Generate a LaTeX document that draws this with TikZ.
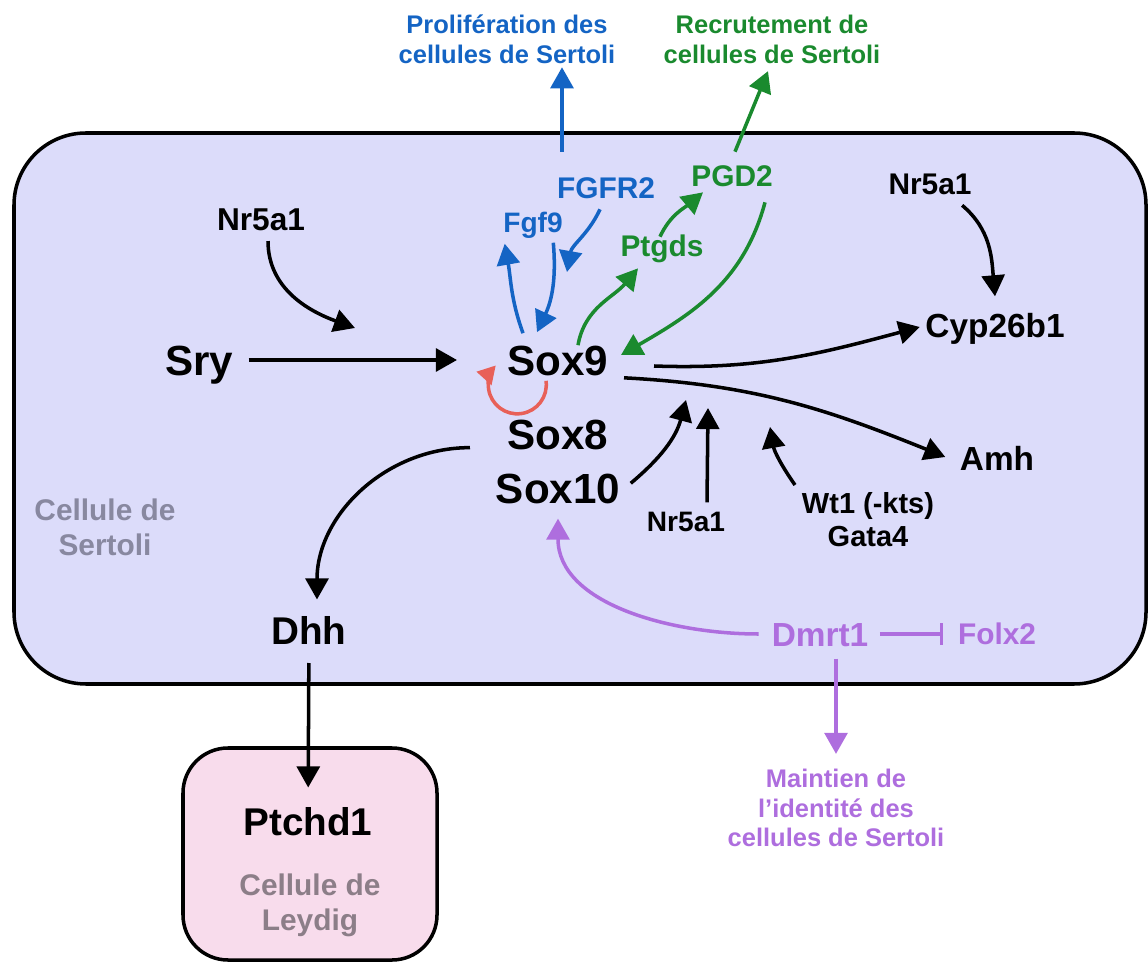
\documentclass[tikz,border=0pt]{standalone}
\usepackage{fontspec}
\setmainfont{Liberation Sans}
\usetikzlibrary{arrows.meta,positioning}

\definecolor{sertolibg}{RGB}{220,220,250}
\definecolor{leydigbg}{RGB}{248,220,236}
\definecolor{fgfblue}{RGB}{20,100,196}
\definecolor{pgdgreen}{RGB}{26,138,46}
\definecolor{dmrtpurple}{RGB}{174,110,222}
\definecolor{loopred}{RGB}{232,96,88}
\definecolor{cellgray}{RGB}{136,136,160}
\definecolor{leydiggray}{RGB}{140,126,136}

\tikzset{
  gene/.style 2 args={font=\bfseries\fontsize{#1}{#1}\selectfont, text height=#2, text depth=0pt, inner sep=3pt},
  note/.style 2 args={align=center, inner sep=2pt, font=\bfseries\fontsize{#1}{#2}\selectfont},
  act/.style={-{Triangle[length=12pt,width=13pt]}, line width=2pt},
  fgfarrow/.style={act, color=fgfblue},
  pgdarrow/.style={act, color=pgdgreen},
  dmrtarrow/.style={act, color=dmrtpurple},
  looparrow/.style={-{Triangle[length=10pt,width=11pt]}, line width=2pt, color=loopred},
}

\begin{document}
\begin{tikzpicture}[x=0.02cm, y=0.02cm]
\useasboundingbox (0,0) rectangle (1148,964);

% cells
\draw[line width=2pt, fill=sertolibg, rounded corners=1.44cm] (14,280) rectangle (1146,831);
\draw[line width=2pt, fill=leydigbg, rounded corners=0.9cm] (183,4) rectangle (437,216);

% genes
\node[gene={24}{17.3pt}] (sry) at (199,604) {Sry};
\node[gene={24}{17.3pt}] (sox9) at (558,604) {Sox9};
\node[gene={24}{17.3pt}] (sox8) [below=0.66cm of sox9] {Sox8};
\node[gene={24}{17.3pt}] (sox10) [below=0.24cm of sox8] {Sox10};
\node[gene={18}{13pt}] (nrTL) at (261,745) {Nr5a1};
\node[gene={17}{12.2pt}] (nrR) at (930,780) {Nr5a1};
\node[gene={19}{13.7pt}] (cyp) at (995,639) {Cyp26b1};
\node[gene={19}{13.7pt}] (amh) at (997,506) {Amh};
\node[gene={16}{11.5pt}] (nrB) at (686,443) {Nr5a1};
\node[note={16.5}{18.7}] (wt) at (868,444) {Wt1 (-kts)\\Gata4};
\node[gene={16}{11.5pt}, text=fgfblue] (fgf9) at (533,742) {Fgf9};
\node[gene={17}{12.2pt}, text=fgfblue] (fgfr) at (606,776) {FGFR2};
\node[gene={17}{12.2pt}, text=pgdgreen] (ptgds) at (662,718) {Ptgds};
\node[gene={17}{12.2pt}, text=pgdgreen] (pgd) at (732,788) {PGD2};
\node[gene={22}{15.8pt}] (dhh) at (309,333) {Dhh};
\node[gene={22}{15.8pt}] (ptchd) at (308,142) {Ptchd1};
\node[gene={19}{13.7pt}, text=dmrtpurple] (dmrt) at (820,330) {Dmrt1};
\node[gene={17}{12.2pt}, text=dmrtpurple] (folx) at (997,330) {Folx2};

% labels
\node[note={14.5}{17}, text=fgfblue] (prolif) at (507,925) {Prolifération des\\cellules de Sertoli};
\node[note={14.5}{17}, text=pgdgreen] (recrut) at (772,925) {Recrutement de\\cellules de Sertoli};
\node[note={14.5}{17}, text=dmrtpurple] (maint) at (836,156) {Maintien de\\l’identité des\\cellules de Sertoli};
\node[note={17}{20}, text=cellgray] (sertoli) at (105,437) {Cellule de\\Sertoli};
\node[note={17}{20}, text=leydiggray] (leydig) at (310,59) {Cellule de\\Leydig};

% free ends
\coordinate (nrTLend) at (355,636);
\coordinate (fgfrend) at (567,692);
\coordinate (sox10end) at (686,564);
\coordinate (nrBend) at (708,556);
\coordinate (wtend) at (770,537);

% Sry branch
\draw[act] ([shift={(7,-5)}]nrTL.south) to[out=-90,in=160] (nrTLend);
\draw[act, shorten <=0.2cm, shorten >=0.9cm] (sry) -- (sox9);
\draw[looparrow] ([shift={(-12,0)}]sox9.south) arc[start angle=8, end angle=-222, radius=0.58cm];

% Fgf9 loop
\draw[fgfarrow] ([shift={(-35,6)}]sox9.north) to[out=110,in=-80] ([shift={(7,-6)}]fgf9.south west);
\draw[fgfarrow] ([shift={(-15,-5)}]fgf9.south east) to[out=-85,in=65] ([shift={(-21,7)}]sox9.north);
\draw[fgfarrow] ([shift={(-6,-5)}]fgfr.south) to[out=-115,in=80] (fgfrend);
\draw[fgfarrow] ([shift={(-44,20)}]fgfr.north) coordinate (prolifstart) -- (prolifstart |- prolif.south);

% Ptgds loop
\draw[pgdarrow] ([shift={(20,-6)}]sox9.north) to[out=80,in=-130] ([shift={(-24,-6)}]ptgds.south);
\draw[pgdarrow] ([shift={(-2,-7)}]ptgds.north) to[out=65,in=-140] ([shift={(-29,0)}]pgd.south);
\draw[pgdarrow] ([shift={(33,-10)}]pgd.south) to[out=-105,in=30] ([shift={(7,5)}]sox9.east);
\draw[pgdarrow] ([shift={(3,8)}]pgd.north) -- ([shift={(-4,-4)}]recrut.south);

% targets of Sox9
\draw[act] ([shift={(-15,-5)}]nrR.south east) to[out=-40,in=95] ([shift={(0,11)}]cyp.north);
\draw[act] ([shift={(40,-6)}]sox9.east) to[out=-2,in=195] ([shift={(0,-2)}]cyp.west);
\draw[act] ([shift={(10,3)}]sox9.south east) to[out=-3,in=158] ([shift={(-9,1)}]amh.west);

% activators from below
\draw[act] ([shift={(5,5)}]sox10.east) to[out=40,in=-105] (sox10end);
\draw[act] ([shift={(21,3)}]nrB.north) -- (nrBend);
\draw[act] ([shift={(-73,35)}]wt.center) to[out=125,in=-80] (wtend);

% Dhh
\draw[act] ([shift={(-32,-13)}]sox8.west) to[out=180,in=90] ([shift={(8,12)}]dhh.north);
\draw[act, shorten <=0.25cm, shorten >=0.3cm] (dhh) -- (ptchd);

% Dmrt1
\draw[dmrtarrow, shorten <=0.15cm, shorten >=0.19cm] (dmrt.west) to[out=180,in=-90] (sox10.south);
\draw[line width=2pt, color=dmrtpurple, -{Bar[width=12pt]}, shorten <=0.12cm, shorten >=0.18cm] (dmrt) -- (folx);
\draw[dmrtarrow, shorten >=0.22cm] ([shift={(16,-7)}]dmrt.south) coordinate (maintstart) -- (maintstart |- maint.north);
\end{tikzpicture}
\end{document}
